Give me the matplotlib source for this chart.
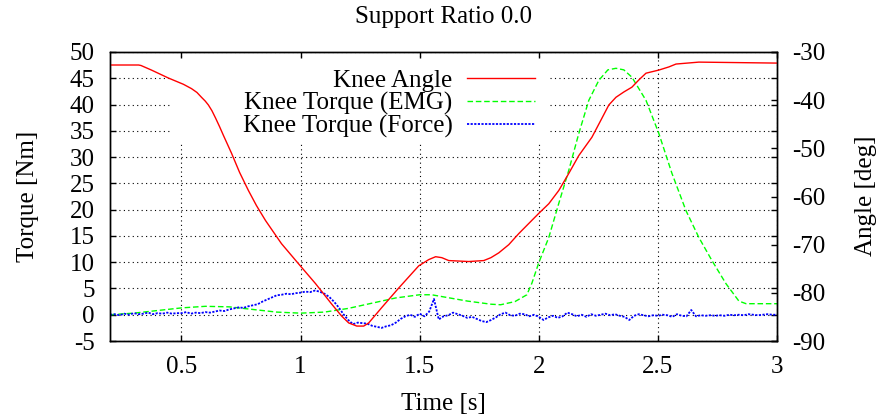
import numpy as np
import matplotlib
matplotlib.use('Agg')
import matplotlib.pyplot as plt
from matplotlib.patches import Rectangle
from matplotlib.ticker import FormatStrFormatter

plt.rcParams['font.family'] = ['Liberation Serif', 'DejaVu Serif']
plt.rcParams['axes.unicode_minus'] = False

# Knee angle [deg] (right axis)
angle_t = [0.2, 0.32, 0.33, 0.374, 0.445, 0.508, 0.542, 0.565, 0.584, 0.6, 0.613,
           0.628, 0.643, 0.66, 0.676, 0.71, 0.744, 0.781, 0.815, 0.853, 0.92, 0.992,
           1.063, 1.13, 1.172, 1.202, 1.236, 1.265, 1.286, 1.34, 1.412, 1.454, 1.496,
           1.538, 1.567, 1.593, 1.622, 1.706, 1.769, 1.799, 1.832, 1.874, 1.916,
           1.958, 2.0, 2.042, 2.084, 2.126, 2.168, 2.223, 2.265, 2.294, 2.324, 2.357,
           2.391, 2.42, 2.45, 2.504, 2.546, 2.576, 2.672, 2.996, 3.0]
angle_v = [-32.7, -32.7, -32.8, -33.75, -35.4, -36.7, -37.6, -38.4, -39.4, -40.2,
           -41.0, -42.2, -43.7, -45.5, -47.3, -51.0, -55.0, -58.75, -61.9, -65.0,
           -69.8, -74.0, -78.1, -82.3, -84.8, -86.25, -86.9, -86.9, -86.25, -83.1,
           -79.0, -76.7, -74.4, -73.1, -72.5, -72.7, -73.3, -73.5, -73.3, -72.7,
           -71.7, -70.0, -67.7, -65.6, -63.5, -61.5, -58.75, -55.2, -51.5, -47.7,
           -43.75, -41.0, -39.4, -38.3, -37.3, -35.8, -34.4, -33.75, -33.1, -32.5,
           -32.1, -32.3, -32.3]

# Knee torque from EMG [Nm]
emg_t = [0.2, 0.3, 0.4, 0.5, 0.6, 0.7, 0.8, 0.9, 1.0, 1.1, 1.2, 1.3, 1.4, 1.5,
         1.55, 1.6, 1.7, 1.8, 1.84, 1.9, 1.95, 1.971, 2.0, 2.042, 2.084, 2.126,
         2.168, 2.21, 2.252, 2.29, 2.324, 2.357, 2.391, 2.45, 2.504, 2.559,
         2.618, 2.672, 2.727, 2.786, 2.84, 2.87, 3.0]
emg_v = [0.0, 0.3, 0.8, 1.3, 1.6, 1.5, 1.0, 0.5, 0.3, 0.5, 1.2, 2.2, 3.2, 3.8,
         3.8, 3.4, 2.6, 2.0, 1.9, 2.5, 3.8, 6.0, 9.9, 14.7, 21.2, 27.5,
         34.5, 40.8, 44.6, 46.6, 46.9, 46.6, 45.2, 40.8, 34.5, 26.9,
         19.8, 14.7, 10.3, 5.9, 2.6, 2.1, 2.1]

# Knee torque from force sensor [Nm], sampled every 0.02 s
force_t = np.linspace(0.2, 3.0, 141)
force_v = [0.0, 0.1, -0.1, 0.2, 0.0, 0.3, 0.1, 0.2, 0.4, 0.1, 0.3, 0.2, 0.4, 0.2, 0.3,
           0.3, 0.5, 0.2, 0.4, 0.3, 0.5, 0.4, 0.6, 0.8, 0.7, 1.0, 1.2, 1.4, 1.3, 1.6,
           1.8, 2.0, 2.5, 2.9, 3.3, 3.7, 3.8, 4.0, 3.9, 4.1,
           4.2, 4.4, 4.3, 4.6, 4.4, 4.0, 3.4, 2.5, 1.4, 0.1,
           -1.0, -1.8, -1.5, -1.6, -1.7, -2.1, -2.3, -2.5, -2.2, -2.0,
           -1.5, -0.8, -0.3, 0.0, -0.4, 0.2, -0.3, 0.6, 3.0,
           -0.9, -0.3, -0.1, 0.4, 0.1, -0.2, -0.6, -0.4, -0.8, -1.2, -1.4,
           -1.0, -0.5, 0.1, 0.4, -0.1, -0.2, 0.2, 0.1, -0.3, 0.0,
           -0.4, -1.0, -0.5, -0.2, -0.6, -0.3, 0.4, 0.1, -0.3, 0.0,
           -0.4, 0.1, -0.2, 0.0, 0.2, -0.1, 0.1, -0.2, -0.4, -1.0,
           -0.2, 0.1, -0.1, -0.3, -0.1, -0.2, 0.0, -0.1, -0.4, 0.1,
           -0.2, -0.3, 0.9, -0.3, -0.1, -0.2, -0.1, -0.2, -0.1, -0.2,
           0.0, -0.1, 0.0, -0.1, 0.1, 0.0, -0.1, 0.0, 0.1, 0.0, 0.0]

x_ticks = [0.5, 1, 1.5, 2, 2.5, 3]
torque_ticks = list(range(-5, 51, 5))
angle_ticks = list(range(-90, -29, 10))

fs = 18

fig = plt.figure(figsize=(8.82, 4.18), dpi=100)
ax = fig.add_axes([110/882, 1-341/418, 667/882, 289/418])
ax2 = ax.twinx()

ax.plot(emg_t, emg_v, color='#00ff00', lw=1.0, ls=(0, (4, 2)), zorder=2,
        label='Knee Torque (EMG)')
ax.plot(force_t, force_v, color='#0000ff', lw=1.3, ls=(0, (1.2, 0.8)), zorder=2,
        label='Knee Torque (Force)')
ax2.plot(angle_t, angle_v, color='#ff0000', lw=1.0, zorder=2, label='Knee Angle')

ax.set_xlim(0.2, 3)
ax.set_ylim(-5, 50)
ax2.set_ylim(-90, -30)
ax.set_xticks(x_ticks)
ax.set_yticks(torque_ticks)
ax2.set_yticks(angle_ticks)
ax.xaxis.set_major_formatter(FormatStrFormatter('%g'))

ax.grid(True, color='black', lw=0.8, ls=(0, (1, 3)))
ax.tick_params(direction='in', length=4.5, width=1, top=True, right=True,
               labelsize=fs, pad=11)
ax2.tick_params(direction='in', length=4.5, width=1, labelsize=fs, pad=11)
for a in (ax, ax2):
    for s in a.spines.values():
        s.set_linewidth(1.0)

# key box blanks the grid behind it
ax2.add_patch(Rectangle((0.0898, 0.684), 0.57, 0.29, transform=ax2.transAxes,
                        facecolor='white', edgecolor='none', zorder=1))

h1, l1 = ax2.get_legend_handles_labels()
h2, l2 = ax.get_legend_handles_labels()
leg = ax2.legend(h1 + h2, l1 + l2, loc='upper right', bbox_to_anchor=(0.637, 0.94),
                 frameon=False, markerfirst=False, fontsize=fs, borderpad=0,
                 borderaxespad=0, handlelength=2.7, handletextpad=0.6, labelspacing=0.0)
leg.set_zorder(3)

mid_x = (110 + 777) / 2 / 882
fig.text(28/882, 1 - 196/418, 'Torque [Nm]', fontsize=fs, rotation=90,
         ha='center', va='center')
fig.text(866/882, 1 - 196/418, 'Angle [deg]', fontsize=fs, rotation=90,
         ha='center', va='center')
fig.text(mid_x, 1 - 404/418, 'Time [s]', fontsize=fs, ha='center', va='center')
fig.text(mid_x, 1 - 17/418, 'Support Ratio 0.0', fontsize=fs,
         ha='center', va='center')

fig.savefig('out.png', dpi=100)
